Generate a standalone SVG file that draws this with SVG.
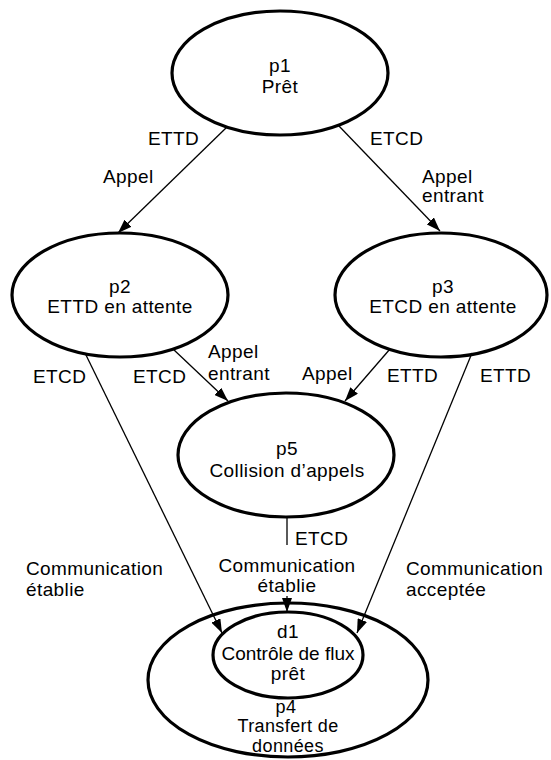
<svg xmlns="http://www.w3.org/2000/svg" width="551" height="760" viewBox="0 0 551 760">
<style>
.n{fill:none;stroke:#000;stroke-width:3.2}
.t{font-family:"Liberation Sans",Arial,sans-serif;font-size:19px;letter-spacing:0.4px;fill:#000}
.c{text-anchor:middle}
.e{fill:none;stroke:#000;stroke-width:1.3}
</style>
<defs>
<marker id="ah" viewBox="0 0 14 10" refX="14" refY="5" markerWidth="14" markerHeight="10" markerUnits="userSpaceOnUse" orient="auto">
<path d="M0,0 L14,5 L0,10 Z" fill="#000"/>
</marker>
</defs>
<rect width="551" height="760" fill="#fff"/>
<g id="connectors">
<path class="e" d="M227,127 L118,233" marker-end="url(#ah)"/>
<path class="e" d="M338,125 L440,231" marker-end="url(#ah)"/>
<path class="e" d="M173,349 L228,401" marker-end="url(#ah)"/>
<path class="e" d="M390,349 L345,401" marker-end="url(#ah)"/>
<path class="e" d="M85,353 L222,633" marker-end="url(#ah)"/>
<path class="e" d="M472,353 L357,633" marker-end="url(#ah)"/>
<path class="e" d="M287,517 L287,545"/>
<path class="e" d="M287,596 L287,612" marker-end="url(#ah)"/>
<text class="t" x="148" y="145">ETTD</text>
<text class="t" x="103" y="183">Appel</text>
<text class="t" x="370" y="145">ETCD</text>
<text class="t" x="422" y="183">Appel</text>
<text class="t" x="422" y="202">entrant</text>
<text class="t" x="33" y="383">ETCD</text>
<text class="t" x="133" y="383">ETCD</text>
<text class="t" x="208" y="358">Appel</text>
<text class="t" x="208" y="380">entrant</text>
<text class="t" x="302" y="380">Appel</text>
<text class="t" x="387" y="382">ETTD</text>
<text class="t" x="480" y="382">ETTD</text>
<text class="t" x="295" y="545">ETCD</text>
<text class="t" x="26" y="575">Communication</text>
<text class="t" x="26" y="596">établie</text>
<text class="t c" x="287" y="572">Communication</text>
<text class="t c" x="287" y="592">établie</text>
<text class="t" x="406" y="575">Communication</text>
<text class="t" x="406" y="596">acceptée</text>
</g>
<g id="p1">
<ellipse class="n" cx="280" cy="73" rx="108" ry="62"/>
<text class="t c" x="280" y="72">p1</text>
<text class="t c" x="280" y="93">Prêt</text>
</g>
<g id="p2">
<ellipse class="n" cx="120" cy="295" rx="108" ry="62"/>
<text class="t c" x="120" y="293">p2</text>
<text class="t c" x="120" y="313">ETTD en attente</text>
</g>
<g id="p3">
<ellipse class="n" cx="441" cy="295" rx="106" ry="62"/>
<text class="t c" x="443" y="293">p3</text>
<text class="t c" x="443" y="313">ETCD en attente</text>
</g>
<g id="p5">
<ellipse class="n" cx="286" cy="455" rx="108" ry="62"/>
<text class="t c" x="287" y="455">p5</text>
<text class="t c" x="287" y="477">Collision d’appels</text>
</g>
<g id="p4">
<ellipse class="n" cx="288" cy="680" rx="140" ry="77"/>
<text class="t c" x="286" y="713" style="font-size:18px">p4</text>
<text class="t c" x="288" y="732" style="font-size:18px">Transfert de</text>
<text class="t c" x="288" y="752" style="font-size:18px">données</text>
</g>
<g id="d1">
<ellipse class="n" cx="288" cy="655" rx="75" ry="43"/>
<text class="t c" x="288" y="638">d1</text>
<text class="t c" x="288" y="660" style="letter-spacing:0">Contrôle de flux</text>
<text class="t c" x="288" y="680">prêt</text>
</g>
</svg>
